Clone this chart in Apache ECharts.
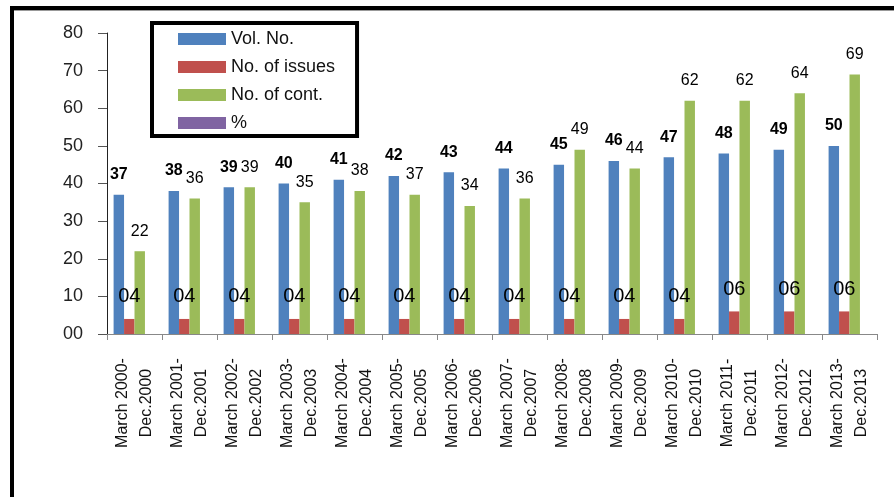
<!DOCTYPE html>
<html>
<head>
<meta charset="utf-8">
<script src="https://cdn.jsdelivr.net/npm/echarts@6/dist/echarts.min.js"></script>
<style>
  html, body { margin: 0; padding: 0; background: #fff; }
  #chart { width: 894px; height: 497px; }
</style>
</head>
<body>
<div id="chart"></div>
<script>
const categories = [
  "March 2000-\nDec.2000", "March 2001-\nDec.2001", "March 2002-\nDec.2002",
  "March 2003-\nDec.2003", "March 2004-\nDec.2004", "March 2005-\nDec.2005",
  "March 2006-\nDec.2006", "March 2007-\nDec.2007", "March 2008-\nDec.2008",
  "March 2009-\nDec.2009", "March 2010-\nDec.2010", "March 2011-\nDec.2011",
  "March 2012-\nDec.2012", "March 2013-\nDec.2013"
];
const volNo = [37, 38, 39, 40, 41, 42, 43, 44, 45, 46, 47, 48, 49, 50];
const noOfIssues = [4, 4, 4, 4, 4, 4, 4, 4, 4, 4, 4, 6, 6, 6];
const noOfCont = [22, 36, 39, 35, 38, 37, 34, 36, 49, 44, 62, 62, 64, 69];
const percent = [];
const seriesNames = ["Vol. No.", "No. of issues", "No. of cont.", "%"];
const yMin = 0, yMax = 80, yInterval = 10;

const pad2 = v => String(v).padStart(2, "0");
const chart = echarts.init(document.getElementById("chart"));

chart.setOption({
  animation: false,
  backgroundColor: "#fff",
  textStyle: { fontFamily: "Liberation Sans" },
  graphic: [
    { type: "rect", shape: { x: 10, y: 6, width: 884, height: 4 }, style: { fill: "#000" } },
    { type: "rect", shape: { x: 10, y: 10, width: 884, height: 1 }, style: { fill: "#999" } },
    { type: "rect", shape: { x: 10, y: 6, width: 4, height: 491 }, style: { fill: "#000" } }
  ],
  legend: {
    data: seriesNames,
    orient: "vertical",
    left: 152,
    top: 23,
    padding: [7, 22, 4, 26],
    itemGap: 10,
    itemWidth: 48,
    itemHeight: 12,
    borderColor: "#000",
    borderWidth: 4,
    icon: "rect",
    textStyle: { fontSize: 18, color: "#111", fontFamily: "Liberation Sans" }
  },
  grid: { left: 107, right: 17, top: 33, bottom: 163, containLabel: false },
  xAxis: {
    type: "category",
    data: categories,
    boundaryGap: true,
    axisLine: { lineStyle: { color: "#888", width: 1 } },
    axisTick: { show: true, length: 6, lineStyle: { color: "#888" } },
    axisLabel: {
      interval: 0,
      rotate: 90,
      align: "center",
      verticalAlign: "middle",
      margin: 69,
      fontSize: 16,
      lineHeight: 24,
      color: "#111"
    },
    splitLine: { show: false }
  },
  yAxis: {
    type: "value",
    min: yMin,
    max: yMax,
    interval: yInterval,
    axisLine: { show: true, lineStyle: { color: "#222", width: 1 } },
    axisTick: { show: true, length: 9, lineStyle: { color: "#555" } },
    axisLabel: { formatter: v => pad2(v), fontSize: 18, color: "#222", margin: 24 },
    splitLine: { show: false }
  },
  series: [
    {
      name: seriesNames[0], type: "bar", data: volNo,
      barGap: "0%", barCategoryGap: "24%",
      itemStyle: { color: "#4F81BD" },
      label: { show: true, position: "top", distance: 12, fontSize: 16, fontWeight: "bold", color: "#000" }
    },
    {
      name: seriesNames[1], type: "bar", data: noOfIssues,
      barGap: "0%", barCategoryGap: "24%",
      itemStyle: { color: "#C0504D" },
      label: { show: true, position: "top", distance: 12, fontSize: 20, color: "#000", formatter: p => pad2(p.value) }
    },
    {
      name: seriesNames[2], type: "bar", data: noOfCont,
      barGap: "0%", barCategoryGap: "24%",
      itemStyle: { color: "#9BBB59" },
      label: { show: true, position: "top", distance: 12, fontSize: 16, color: "#000" }
    },
    {
      name: seriesNames[3], type: "bar", data: percent,
      barGap: "0%", barCategoryGap: "24%",
      itemStyle: { color: "#8064A2" }
    }
  ]
});
</script>
</body>
</html>
